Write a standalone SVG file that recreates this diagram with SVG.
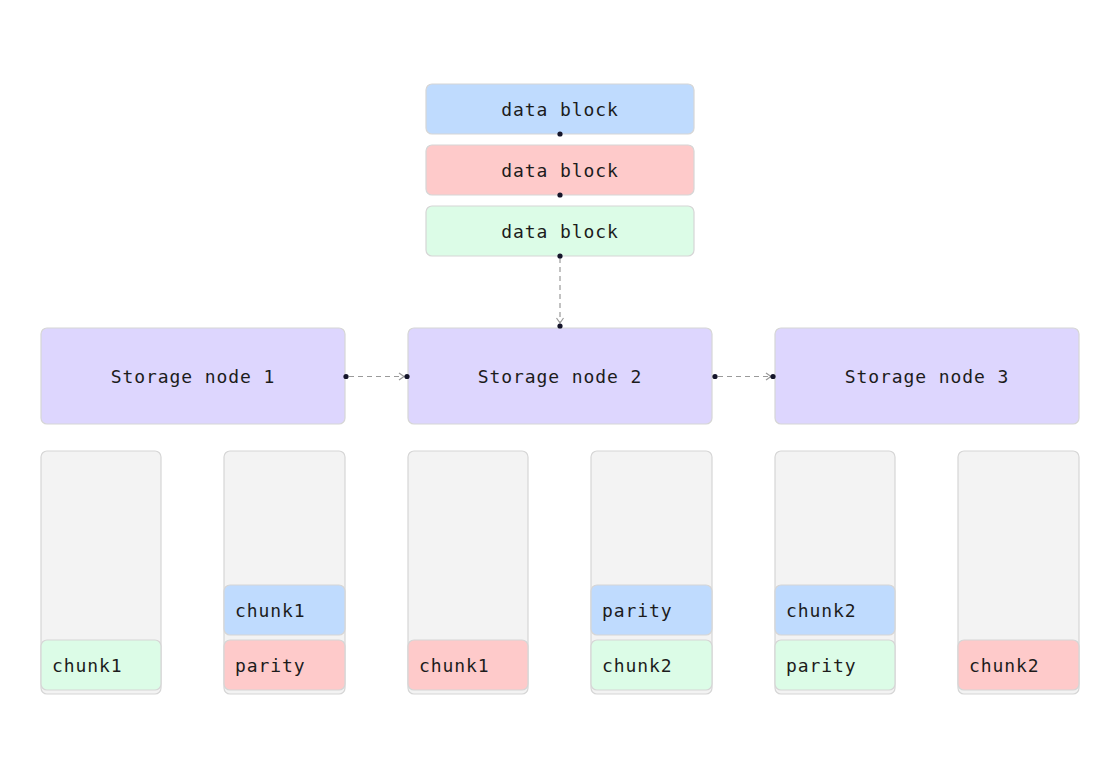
<svg xmlns="http://www.w3.org/2000/svg" width="1116" height="776" viewBox="0 0 1116 776">
<style>
.box{stroke:#d6d6d6;stroke-width:1.2}
.blue{fill:#bfdbfe}
.red{fill:#fecaca}
.green{fill:#dcfce7}
.purple{fill:#ddd6fe}
.gray{fill:#f3f3f3}
text{font-family:"DejaVu Sans Mono","Liberation Mono",monospace;font-size:18px;fill:#1c1c1c;letter-spacing:0.9px}
.c{text-anchor:middle}
.conn{stroke:#9a9a9a;stroke-width:1.2;stroke-dasharray:5 4;fill:none}
.dot{fill:#15152a}
</style>
<defs>
<marker id="arr" markerWidth="10" markerHeight="10" refX="8" refY="5" orient="auto" markerUnits="userSpaceOnUse">
<path d="M3,1.5 L8,5 L3,8.5" fill="none" stroke="#9a9a9a" stroke-width="1.2"/>
</marker>
</defs>
<rect width="1116" height="776" fill="#ffffff"/>

<g id="db1"><rect class="box blue" x="426" y="84" width="268" height="50" rx="6"/><text class="c" x="560" y="116">data block</text></g>
<g id="db2"><rect class="box red" x="426" y="145" width="268" height="50" rx="6"/><text class="c" x="560" y="177">data block</text></g>
<g id="db3"><rect class="box green" x="426" y="206" width="268" height="50" rx="6"/><text class="c" x="560" y="238">data block</text></g>

<g id="sn1"><rect class="box purple" x="41" y="328" width="304" height="96" rx="6"/><text class="c" x="193" y="383">Storage node 1</text></g>
<g id="sn2"><rect class="box purple" x="408" y="328" width="304" height="96" rx="6"/><text class="c" x="560" y="383">Storage node 2</text></g>
<g id="sn3"><rect class="box purple" x="775" y="328" width="304" height="96" rx="6"/><text class="c" x="927" y="383">Storage node 3</text></g>

<g id="col1"><rect class="box gray" x="41" y="451" width="120" height="243" rx="6"/>
<g id="col1-chunk1"><rect class="box green" x="41" y="640" width="120" height="50" rx="6"/><text x="52" y="672">chunk1</text></g></g>
<g id="col2"><rect class="box gray" x="224" y="451" width="121" height="243" rx="6"/>
<g id="col2-chunk1"><rect class="box blue" x="224" y="585" width="121" height="50" rx="6"/><text x="235" y="617">chunk1</text></g>
<g id="col2-parity"><rect class="box red" x="224" y="640" width="121" height="50" rx="6"/><text x="235" y="672">parity</text></g></g>
<g id="col3"><rect class="box gray" x="408" y="451" width="120" height="243" rx="6"/>
<g id="col3-chunk1"><rect class="box red" x="408" y="640" width="120" height="50" rx="6"/><text x="419" y="672">chunk1</text></g></g>
<g id="col4"><rect class="box gray" x="591" y="451" width="121" height="243" rx="6"/>
<g id="col4-parity"><rect class="box blue" x="591" y="585" width="121" height="50" rx="6"/><text x="602" y="617">parity</text></g>
<g id="col4-chunk2"><rect class="box green" x="591" y="640" width="121" height="50" rx="6"/><text x="602" y="672">chunk2</text></g></g>
<g id="col5"><rect class="box gray" x="775" y="451" width="120" height="243" rx="6"/>
<g id="col5-chunk2"><rect class="box blue" x="775" y="585" width="120" height="50" rx="6"/><text x="786" y="617">chunk2</text></g>
<g id="col5-parity"><rect class="box green" x="775" y="640" width="120" height="50" rx="6"/><text x="786" y="672">parity</text></g></g>
<g id="col6"><rect class="box gray" x="958" y="451" width="121" height="243" rx="6"/>
<g id="col6-chunk2"><rect class="box red" x="958" y="640" width="121" height="50" rx="6"/><text x="969" y="672">chunk2</text></g></g>

<g id="connectors">
<line class="conn" x1="560" y1="258" x2="560" y2="323" marker-end="url(#arr)"/>
<line class="conn" x1="349" y1="376.5" x2="404" y2="376.5" marker-end="url(#arr)"/>
<line class="conn" x1="718" y1="376.5" x2="771" y2="376.5" marker-end="url(#arr)"/>
<circle class="dot" cx="560" cy="134" r="2.6"/>
<circle class="dot" cx="560" cy="195" r="2.6"/>
<circle class="dot" cx="560" cy="256" r="2.6"/>
<circle class="dot" cx="560" cy="326" r="2.6"/>
<circle class="dot" cx="346" cy="376.5" r="2.6"/>
<circle class="dot" cx="407" cy="376.5" r="2.6"/>
<circle class="dot" cx="715" cy="376.5" r="2.6"/>
<circle class="dot" cx="773" cy="376.5" r="2.6"/>
</g>
</svg>
